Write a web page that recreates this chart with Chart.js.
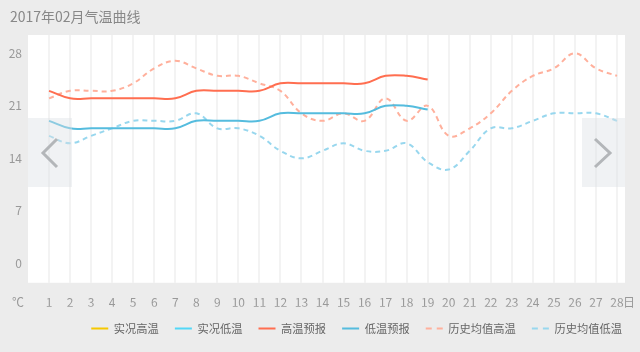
<!DOCTYPE html>
<html>
<head>
<meta charset="utf-8">
<script src="https://cdn.jsdelivr.net/npm/chart.js@4.4.1/dist/chart.umd.min.js"></script>
<style>
    html, body { margin: 0; padding: 0; background: #ececec; }
</style>
</head>
<body>
<canvas id="temp_curve" width="640" height="352"></canvas>
<script>
const days = [1, 2, 3, 4, 5, 6, 7, 8, 9, 10, 11, 12, 13, 14, 15, 16, 17, 18, 19, 20, 21, 22, 23, 24, 25, 26, 27, 28];
const yTicks = [0, 7, 14, 21, 28];

const actualHigh = [];
const actualLow = [];
const highForecast = [23, 22, 22, 22, 22, 22, 22, 23, 23, 23, 23, 24, 24, 24, 24, 24, 25, 25, 24.5];
const lowForecast = [19, 18, 18, 18, 18, 18, 18, 19, 19, 19, 19, 20, 20, 20, 20, 20, 21, 21, 20.5];
const histHigh = [22, 23, 23, 23, 24, 26, 27, 26, 25, 25, 24, 23, 20, 19, 20, 19, 22, 19, 21, 17, 18, 20, 23, 25, 26, 28, 26, 25];
const histLow = [17, 16, 17, 18, 19, 19, 19, 20, 18, 18, 17, 15, 14, 15, 16, 15, 15, 16, 13.5, 12.5, 15, 18, 18, 19, 20, 20, 20, 19];

const chartTitle = '2017年02月气温曲线';
const fontFamily = "'Noto Sans CJK SC', 'Noto Sans', sans-serif";

function toPoints(arr){
    return arr.map((v, i) => ({x: days[i], y: v}));
}

// white plot area, title, the two grey pager buttons and unit labels
const decor = {
    id: 'decor',
    beforeDraw(chart){
        const {ctx, chartArea: a} = chart;
        ctx.save();
        ctx.fillStyle = '#ffffff';
        ctx.fillRect(a.left, a.top, a.right - a.left, a.bottom - a.top);
        ctx.fillStyle = '#888';
        ctx.font = '14px ' + fontFamily;
        ctx.textBaseline = 'middle';
        ctx.textAlign = 'left';
        ctx.fillText(chartTitle, 10, 17);
        ctx.restore();
    },
    afterDatasetsDraw(chart){
        const {ctx, chartArea: a} = chart;
        const top = a.top + 83;
        const h = 69;
        ctx.save();
        ctx.fillStyle = 'rgba(220,223,228,0.42)';
        ctx.fillRect(a.left, top, 44, h);
        ctx.fillRect(a.right - 43, top, 43, h);

        ctx.strokeStyle = '#b3b6b9';
        ctx.lineWidth = 3;
        ctx.beginPath();
        ctx.moveTo(a.left + 29, top + 21);
        ctx.lineTo(a.left + 15, top + 35);
        ctx.lineTo(a.left + 29, top + 49);
        ctx.stroke();
        ctx.beginPath();
        ctx.moveTo(a.right - 30, top + 21);
        ctx.lineTo(a.right - 15, top + 35);
        ctx.lineTo(a.right - 30, top + 49);
        ctx.stroke();
        ctx.restore();
    },
    afterDraw(chart){
        const {ctx, chartArea: a} = chart;
        const xs = chart.scales.x;
        ctx.save();
        ctx.fillStyle = '#999';
        ctx.font = '12px ' + fontFamily;
        ctx.textBaseline = 'middle';
        ctx.textAlign = 'center';
        ctx.fillText('℃', a.left - 10, a.bottom + 19.7);
        ctx.textAlign = 'left';
        ctx.fillText('日', xs.getPixelForValue(28) + 6, a.bottom + 19.7);
        ctx.restore();
    }
};

new Chart(document.getElementById('temp_curve'), {
    type: 'line',
    data: {
        datasets: [
            {
                label: '实况高温',
                data: toPoints(actualHigh),
                borderColor: '#f6c800',
                backgroundColor: '#f6c800',
                borderWidth: 2
            },
            {
                label: '实况低温',
                data: toPoints(actualLow),
                borderColor: '#52d7f7',
                backgroundColor: '#52d7f7',
                borderWidth: 2
            },
            {
                label: '高温预报',
                data: toPoints(highForecast),
                borderColor: '#ff6e50',
                backgroundColor: '#ff6e50',
                borderWidth: 2
            },
            {
                label: '低温预报',
                data: toPoints(lowForecast),
                borderColor: '#55bcde',
                backgroundColor: '#55bcde',
                borderWidth: 2
            },
            {
                label: '历史均值高温',
                data: toPoints(histHigh),
                borderColor: '#ffb09c',
                backgroundColor: '#ffb09c',
                borderWidth: 2,
                borderDash: [5, 4]
            },
            {
                label: '历史均值低温',
                data: toPoints(histLow),
                borderColor: '#98d7ee',
                backgroundColor: '#98d7ee',
                borderWidth: 2,
                borderDash: [5, 4]
            }
        ]
    },
    options: {
        responsive: false,
        animation: false,
        elements: {
            point: { radius: 0, hoverRadius: 0 },
            line: { tension: 0.4, fill: false }
        },
        layout: {
            padding: { left: 0, right: 2, top: 35, bottom: 8 }
        },
        scales: {
            x: {
                type: 'linear',
                min: 0,
                max: 28.38,
                afterBuildTicks: s => { s.ticks = days.map(v => ({value: v})); },
                afterFit: s => { s.height = 24; },
                grid: { display: true, drawTicks: false, color: '#f3f3f3', lineWidth: 2 },
                border: { display: false },
                ticks: {
                    color: '#999',
                    padding: 12.5,
                    autoSkip: false,
                    maxRotation: 0,
                    font: { size: 12, family: fontFamily }
                }
            },
            y: {
                min: -2.6,
                max: 30.45,
                afterBuildTicks: s => { s.ticks = yTicks.map(v => ({value: v})); },
                afterFit: s => { s.width = 28; },
                grid: { display: false, drawTicks: false },
                border: { display: false },
                ticks: {
                    color: '#999',
                    padding: 6,
                    font: { size: 12, family: fontFamily }
                }
            },
            yRight: {
                position: 'right',
                display: true,
                afterFit: s => { s.width = 13; },
                grid: { display: false },
                border: { display: false },
                ticks: { display: false }
            }
        },
        plugins: {
            title: { display: false },
            legend: {
                position: 'bottom',
                align: 'end',
                labels: {
                    usePointStyle: true,
                    pointStyle: 'line',
                    pointStyleWidth: 17,
                    color: '#666',
                    padding: 16,
                    font: { size: 11.25, family: fontFamily },
                    generateLabels: chart => {
                        const items = Chart.defaults.plugins.legend.labels.generateLabels(chart);
                        items.forEach(it => {
                            const ds = chart.data.datasets[it.datasetIndex];
                            it.strokeStyle = ds.borderColor;
                            it.lineWidth = 2;
                            it.lineDash = ds.borderDash ? [6, 5] : [];
                        });
                        return items;
                    }
                }
            },
            tooltip: { enabled: false }
        }
    },
    plugins: [decor]
});
</script>
</body>
</html>
